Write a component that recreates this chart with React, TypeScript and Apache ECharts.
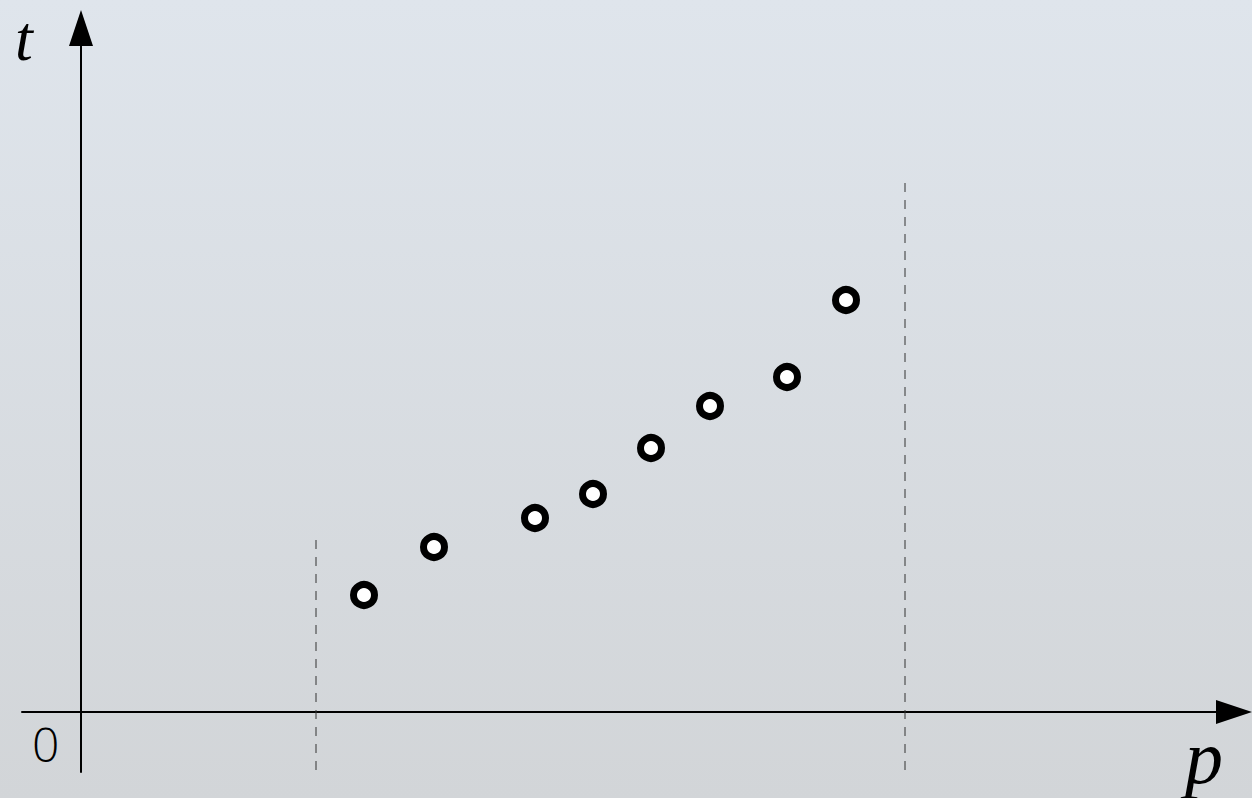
import React, { useEffect, useRef } from "react";
import * as echarts from "echarts";

// Data (units: abstract p / t values, origin at the axes' crossing)
const pValues = [283, 353, 454, 512, 570, 629, 706, 765];
const tValues = [117, 165, 194, 218, 264, 306, 335, 412];
const boundP = [235, 824];
const boundTop = [177, 529];
const boundBottom = -58;
const axisLabels = { x: "p", y: "t", origin: "0" };

export default function App() {
  const ref = useRef<HTMLDivElement>(null);
  useEffect(() => {
    if (!ref.current) return;
    const chart = echarts.init(ref.current, null, { renderer: "svg" });
    const points = pValues.map((p, i) => [p, tValues[i]]);
    const boundSeries = boundP.map((p, i) => ({
      type: "line",
      data: [
        [p, boundBottom],
        [p, boundTop[i]],
      ],
      symbol: "none",
      silent: true,
      lineStyle: { color: "#333", width: 1, type: [9, 8] },
      z: 1,
    }));
    chart.setOption({
      animation: false,
      backgroundColor: new echarts.graphic.LinearGradient(0, 0, 0, 1, [
        { offset: 0, color: "#dfe5ec" },
        { offset: 1, color: "#d2d5d8" },
      ]),
      grid: { left: 22, right: 18, top: 28, bottom: 26 },
      xAxis: {
        type: "value",
        min: -59,
        max: 1153,
        axisLine: {
          onZero: true,
          symbol: ["none", "triangle"],
          symbolSize: [24, 36],
          lineStyle: { color: "#000", width: 2 },
        },
        axisTick: { show: false },
        axisLabel: { show: false },
        splitLine: { show: false },
      },
      yAxis: {
        type: "value",
        min: -60,
        max: 684,
        axisLine: {
          onZero: true,
          symbol: ["none", "triangle"],
          symbolSize: [24, 36],
          lineStyle: { color: "#000", width: 2 },
        },
        axisTick: { show: false },
        axisLabel: { show: false },
        splitLine: { show: false },
      },
      graphic: [
        {
          type: "text",
          left: 15,
          top: 6,
          style: {
            text: axisLabels.y,
            font: "italic 64px 'Liberation Serif', serif",
            fill: "#000",
          },
        },
        {
          type: "text",
          left: 1185,
          top: 719,
          style: {
            text: axisLabels.x,
            font: "italic 76px 'Liberation Serif', serif",
            fill: "#000",
          },
        },
        {
          type: "text",
          left: 32,
          top: 719,
          style: {
            text: axisLabels.origin,
            font: "300 48px 'Open Sans', sans-serif",
            fill: "#000",
          },
        },
      ],
      series: [
        ...boundSeries,
        {
          type: "scatter",
          data: points,
          symbol: "circle",
          symbolSize: 21,
          itemStyle: {
            color: "#fff",
            borderColor: "#000",
            borderWidth: 7,
            opacity: 1,
          },
          z: 5,
        },
      ],
    });
    return () => chart.dispose();
  }, []);
  return (
    <div
      ref={ref}
      style={{ position: "fixed", left: 0, top: 0, width: 1252, height: 798 }}
    />
  );
}
